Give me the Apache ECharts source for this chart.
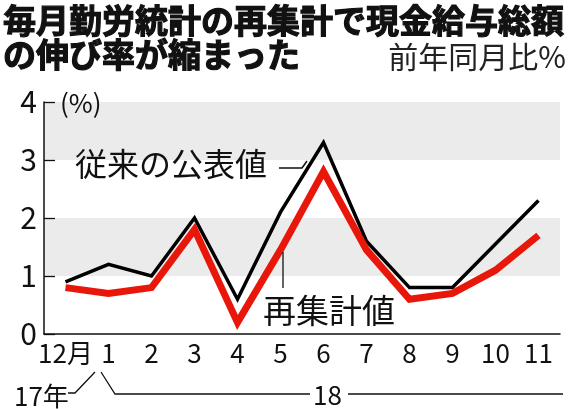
<!DOCTYPE html>
<html><head><meta charset="utf-8">
<script src="https://cdn.jsdelivr.net/npm/echarts@6/dist/echarts.min.js"></script>
<style>html,body{margin:0;padding:0;background:#fff}#c{width:570px;height:409px}</style>
</head><body><div id="c"></div>
<script>
const categories = ['12月','1','2','3','4','5','6','7','8','9','10','11'];
const official = [0.9, 1.2, 1.0, 2.0, 0.6, 2.1, 3.3, 1.6, 0.8, 0.8, 1.55, 2.3];
const recalculated = [0.8, 0.7, 0.8, 1.8, 0.2, 1.45, 2.8, 1.45, 0.6, 0.7, 1.1, 1.7];
const yTicks = [0, 1, 2, 3, 4];

const F = '"Noto Sans CJK JP", sans-serif';
const chart = echarts.init(document.getElementById('c'), null, {renderer: 'canvas'});
const txt = (x, y, s, size, opts) => ({type: 'text', z: 100, style: Object.assign({x: x, y: y, text: s, font: (opts && opts.weight || 'normal') + ' ' + size + 'px ' + F, fill: '#111', verticalAlign: 'middle', align: 'left'}, opts && opts.style)});
const ln = (pts, w) => ({type: 'polyline', z: 100, shape: {points: pts}, style: {stroke: '#111', lineWidth: w || 1.3, fill: null}});

chart.setOption({
  animation: false,
  grid: {left: 44, right: 10, top: 102, bottom: 75},
  xAxis: {
    type: 'category', data: categories, boundaryGap: true,
    axisLine: {lineStyle: {color: '#111', width: 1.5}},
    axisTick: {inside: true, length: 6, alignWithLabel: true, interval: 0, lineStyle: {color: '#111', width: 1.3}},
    axisLabel: {color: '#111', fontSize: 26, fontFamily: F, margin: 6, interval: 0}
  },
  yAxis: {
    type: 'value', min: 0, max: 4, interval: 1,
    axisLine: {show: true, lineStyle: {color: '#111', width: 1.5}},
    axisTick: {show: true, inside: true, length: 11, lineStyle: {color: '#111', width: 1.3}},
    axisLabel: {color: '#111', fontSize: 30, fontFamily: F, margin: 7,
      formatter: v => yTicks.includes(v) ? String(v) : ''},
    splitLine: {show: false},
    splitArea: {show: true, areaStyle: {color: ['#ffffff', '#ebebeb']}}
  },
  series: [
    {name: '従来の公表値', type: 'line', data: official, showSymbol: false, z: 3,
      lineStyle: {color: '#000', width: 3.5, join: 'miter'}},
    {name: '再集計値', type: 'line', data: recalculated, showSymbol: false, z: 4,
      lineStyle: {color: '#e8170a', width: 7, join: 'miter'}}
  ],
  graphic: {elements: [
    txt(3, 20, '毎月勤労統計の再集計で現金給与総額', 33, {weight: 'bold', style: {stroke: '#111', lineWidth: 1.2}}),
    txt(3, 54, 'の伸び率が縮まった', 33, {weight: 'bold', style: {stroke: '#111', lineWidth: 1.2}}),
    txt(566, 57, '前年同月比%', 30, {style: {align: 'right', fill: '#222'}}),
    txt(60, 103, '(%)', 26),
    txt(75, 164, '従来の公表値', 32),
    ln([[279, 168], [302, 168], [307, 161]], 1.5),
    txt(263, 310, '再集計値', 33),
    ln([[283, 252], [283, 288]], 1.3),
    txt(14, 396, '17年', 26),
    ln([[68, 393], [75, 393], [95, 372]], 1.3),
    ln([[101, 372], [115, 394], [310, 394]], 1.3),
    txt(313, 395, '18', 26),
    ln([[348, 394], [563, 394]], 1.3)
  ]}
});
</script></body></html>
